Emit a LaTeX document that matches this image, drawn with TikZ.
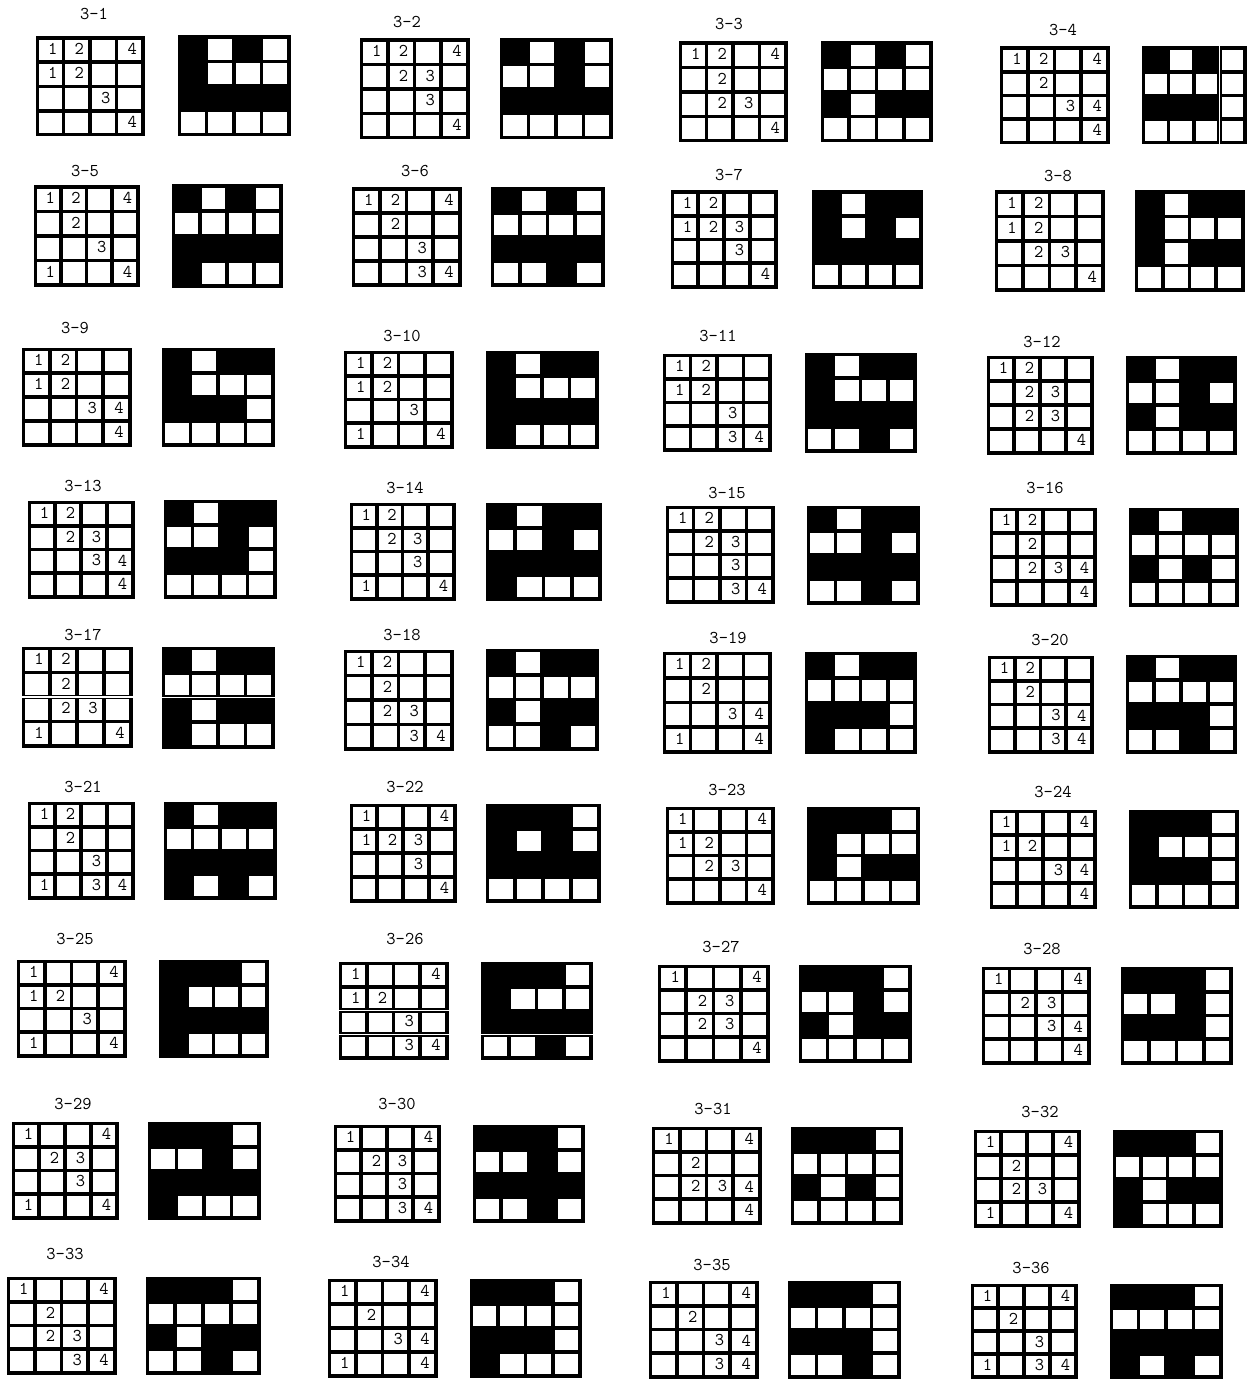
\documentclass[tikz,border=0pt]{standalone}
\usepackage{fontspec}
\begin{document}
\tikzset{
  digit/.style={font=\ttfamily\fontsize{18}{18}\selectfont, inner sep=0pt, anchor=center},
  plabel/.style={font=\ttfamily\fontsize{18}{18}\selectfont, inner sep=0pt},
}
\newcommand\numgrid[5]{%
  \pgfmathsetmacro\gcw{(#3-#1)/4}%
  \pgfmathsetmacro\gch{(#4-#2)/4}%
  \fill[black] ({#1-1.5},{#2-1.5}) rectangle ({#3+1.5},{#4+1.5});
  \foreach \v [count=\i from 0] in {#5} {%
    \pgfmathtruncatemacro\gr{div(\i,4)}%
    \pgfmathtruncatemacro\gc{mod(\i,4)}%
    \fill[white] ({#1+\gc*\gcw+1.8},{#2+\gr*\gch+1.8}) rectangle ({#1+(\gc+1)*\gcw-1.8},{#2+(\gr+1)*\gch-1.8});
    \ifnum\v>0 \node[digit] at ({#1+(\gc+0.5)*\gcw+2.5},{#2+(\gr+0.5)*\gch-1}) {\v};\fi
  }%
}
\newcommand\patgrid[5]{%
  \pgfmathsetmacro\gcw{(#3-#1)/4}%
  \pgfmathsetmacro\gch{(#4-#2)/4}%
  \fill[black] ({#1-1.5},{#2-1.5}) rectangle ({#3+1.5},{#4+1.5});
  \foreach \v [count=\i from 0] in {#5} {%
    \pgfmathtruncatemacro\gr{div(\i,4)}%
    \pgfmathtruncatemacro\gc{mod(\i,4)}%
    \ifnum\v=0 \fill[white] ({#1+\gc*\gcw+1.8},{#2+\gr*\gch+1.8}) rectangle ({#1+(\gc+1)*\gcw-1.8},{#2+(\gr+1)*\gch-1.8});\fi
  }%
}
% a thin white split through a thick cell line, with black kept on both sides
\newcommand\vgap[3]{%
  \fill[black] ({#1-2.6},{#2}) rectangle ({#1+2.6},{#3});
  \fill[white] ({#1-0.6},{#2-2}) rectangle ({#1+0.6},{#3+2});}
\newcommand\hgap[3]{%
  \fill[black] ({#2},{#1-2.4}) rectangle ({#3},{#1+2.4});
  \fill[white] ({#2-2},{#1-0.6}) rectangle ({#3+2},{#1+0.6});}
\begin{tikzpicture}[x=1pt,y=-1pt]
\fill[white] (0,0) rectangle (1248,1380);
\useasboundingbox (0,0) rectangle (1248,1380);
% row 1
\node[plabel] (t1) at (94,14) {3-1};
\numgrid{37}{38}{143}{135}{1,2,0,4, 1,2,0,0, 0,0,3,0, 0,0,0,4}
\patgrid{179}{37}{289}{135}{1,0,1,0, 1,0,0,0, 1,1,1,1, 0,0,0,0}
\node[plabel] (t2) at (407,22) {3-2};
\numgrid{361}{40}{468}{138}{1,2,0,4, 0,2,3,0, 0,0,3,0, 0,0,0,4}
\patgrid{501}{40}{611}{138}{1,0,1,0, 0,0,1,0, 1,1,1,1, 0,0,0,0}
\node[plabel] (t3) at (729,24) {3-3};
\numgrid{680}{43}{786}{141}{1,2,0,4, 0,2,0,0, 0,2,3,0, 0,0,0,4}
\patgrid{822}{43}{931}{141}{1,0,1,0, 0,0,0,0, 1,0,1,1, 0,0,0,0}
\node[plabel] (t4) at (1063,30) {3-4};
\numgrid{1001}{48}{1108}{143}{1,2,0,4, 0,2,0,0, 0,0,3,4, 0,0,0,4}
\patgrid{1143}{48}{1245}{143}{1,0,1,0, 0,0,0,0, 1,1,1,0, 0,0,0,0}
\vgap{1219.5}{46.5}{144.5}
% row 2
\node[plabel] (t5) at (85,171) {3-5};
\numgrid{35}{187}{138}{285}{1,2,0,4, 0,2,0,0, 0,0,3,0, 1,0,0,4}
\patgrid{173}{186}{281}{286}{1,0,1,0, 0,0,0,0, 1,1,1,1, 1,0,0,0}
\node[plabel] (t6) at (415,171) {3-6};
\numgrid{353}{189}{460}{285}{1,2,0,4, 0,2,0,0, 0,0,3,0, 0,0,3,4}
\patgrid{492}{189}{603}{285}{1,0,1,0, 0,0,0,0, 1,1,1,1, 0,0,1,0}
\node[plabel] (t7) at (729,175) {3-7};
\numgrid{672}{192}{776}{287}{1,2,0,0, 1,2,3,0, 0,0,3,0, 0,0,0,4}
\patgrid{813}{192}{921}{287}{1,0,1,1, 1,0,1,0, 1,1,1,1, 0,0,0,0}
\node[plabel] (t8) at (1058,176) {3-8};
\numgrid{996}{192}{1103}{290}{1,2,0,0, 1,2,0,0, 0,2,3,0, 0,0,0,4}
\patgrid{1136}{192}{1243}{290}{1,0,1,1, 1,0,0,0, 1,0,1,1, 0,0,0,0}
% row 3
\node[plabel] (t9) at (75,328) {3-9};
\numgrid{23}{349}{130}{445}{1,2,0,0, 1,2,0,0, 0,0,3,4, 0,0,0,4}
\patgrid{163}{349}{273}{445}{1,0,1,1, 1,0,0,0, 1,1,1,0, 0,0,0,0}
\node[plabel] (t10) at (402,336) {3-10};
\numgrid{345}{352}{452}{447}{1,2,0,0, 1,2,0,0, 0,0,3,0, 1,0,0,4}
\patgrid{487}{352}{597}{447}{1,0,1,1, 1,0,0,0, 1,1,1,1, 1,0,0,0}
\node[plabel] (t11) at (718,336) {3-11};
\numgrid{664}{355}{770}{450}{1,2,0,0, 1,2,0,0, 0,0,3,0, 0,0,3,4}
\patgrid{806}{354}{915}{451}{1,0,1,1, 1,0,0,0, 1,1,1,1, 0,0,1,0}
\node[plabel] (t12) at (1042,342) {3-12};
\numgrid{988}{357}{1092}{453}{1,2,0,0, 0,2,3,0, 0,2,3,0, 0,0,0,4}
\patgrid{1127}{357}{1235}{453}{1,0,1,1, 0,0,1,0, 1,0,1,1, 0,0,0,0}
% row 4
\node[plabel] (t13) at (83,486) {3-13};
\numgrid{29}{502}{133}{597}{1,2,0,0, 0,2,3,0, 0,0,3,4, 0,0,0,4}
\patgrid{165}{501}{275}{597}{1,0,1,1, 0,0,1,0, 1,1,1,0, 0,0,0,0}
\node[plabel] (t14) at (405,488) {3-14};
\numgrid{351}{504}{454}{599}{1,2,0,0, 0,2,3,0, 0,0,3,0, 1,0,0,4}
\patgrid{487}{504}{600}{599}{1,0,1,1, 0,0,1,0, 1,1,1,1, 1,0,0,0}
\node[plabel] (t15) at (727,493) {3-15};
\numgrid{667}{507}{773}{602}{1,2,0,0, 0,2,3,0, 0,0,3,0, 0,0,3,4}
\patgrid{808}{507}{918}{603}{1,0,1,1, 0,0,1,0, 1,1,1,1, 0,0,1,0}
\node[plabel] (t16) at (1045,488) {3-16};
\numgrid{991}{509}{1095}{605}{1,2,0,0, 0,2,0,0, 0,2,3,4, 0,0,0,4}
\patgrid{1130}{509}{1237}{605}{1,0,1,1, 0,0,0,0, 1,0,1,0, 0,0,0,0}
% row 5
\node[plabel] (t17) at (83,635) {3-17};
\numgrid{23}{648}{131}{746}{1,2,0,0, 0,2,0,0, 0,2,3,0, 1,0,0,4}
\patgrid{163}{648}{273}{747}{1,0,1,1, 0,0,0,0, 1,0,1,1, 1,0,0,0}
\hgap{697}{21.5}{132.5}
\hgap{697.5}{161.5}{274.5}
\node[plabel] (t18) at (402,635) {3-18};
\numgrid{345}{651}{452}{749}{1,2,0,0, 0,2,0,0, 0,2,3,0, 0,0,3,4}
\patgrid{487}{650}{597}{749}{1,0,1,1, 0,0,0,0, 1,0,1,1, 0,0,1,0}
\node[plabel] (t19) at (728,638) {3-19};
\numgrid{664}{653}{770}{752}{1,2,0,0, 0,2,0,0, 0,0,3,4, 1,0,0,4}
\patgrid{806}{653}{915}{752}{1,0,1,1, 0,0,0,0, 1,1,1,0, 1,0,0,0}
\node[plabel] (t20) at (1050,640) {3-20};
\numgrid{989}{657}{1092}{752}{1,2,0,0, 0,2,0,0, 0,0,3,4, 0,0,3,4}
\patgrid{1127}{656}{1235}{752}{1,0,1,1, 0,0,0,0, 1,1,1,0, 0,0,1,0}
% row 6
\node[plabel] (t21) at (83,787) {3-21};
\numgrid{29}{803}{133}{898}{1,2,0,0, 0,2,0,0, 0,0,3,0, 1,0,3,4}
\patgrid{165}{803}{275}{898}{1,0,1,1, 0,0,0,0, 1,1,1,1, 1,0,1,0}
\node[plabel] (t22) at (405,787) {3-22};
\numgrid{351}{805}{455}{901}{1,0,0,4, 1,2,3,0, 0,0,3,0, 0,0,0,4}
\patgrid{487}{805}{599}{901}{1,1,1,0, 1,0,1,0, 1,1,1,1, 0,0,0,0}
\node[plabel] (t23) at (727,790) {3-23};
\numgrid{667}{808}{773}{903}{1,0,0,4, 1,2,0,0, 0,2,3,0, 0,0,0,4}
\patgrid{808}{808}{918}{903}{1,1,1,0, 1,0,0,0, 1,0,1,1, 0,0,0,0}
\node[plabel] (t24) at (1053,792) {3-24};
\numgrid{991}{811}{1095}{907}{1,0,0,4, 1,2,0,0, 0,0,3,4, 0,0,0,4}
\patgrid{1130}{811}{1237}{907}{1,1,1,0, 1,0,0,0, 1,1,1,0, 0,0,0,0}
% row 7
\node[plabel] (t25) at (75,939) {3-25};
\numgrid{18}{961}{125}{1056}{1,0,0,4, 1,2,0,0, 0,0,3,0, 1,0,0,4}
\patgrid{160}{961}{267}{1056}{1,1,1,0, 1,0,0,0, 1,1,1,1, 1,0,0,0}
\node[plabel] (t26) at (405,939) {3-26};
\numgrid{340}{963}{447}{1058}{1,0,0,4, 1,2,0,0, 0,0,3,0, 0,0,3,4}
\patgrid{482}{963}{591}{1058}{1,1,1,0, 1,0,0,0, 1,1,1,1, 0,0,1,0}
\hgap{1010.5}{338.5}{448.5}
\hgap{1034.3}{338.5}{448.5}
\hgap{1034.3}{480.5}{592.5}
\node[plabel] (t27) at (721,947) {3-27};
\numgrid{659}{966}{768}{1061}{1,0,0,4, 0,2,3,0, 0,2,3,0, 0,0,0,4}
\patgrid{800}{966}{910}{1061}{1,1,1,0, 0,0,1,0, 1,0,1,1, 0,0,0,0}
\node[plabel] (t28) at (1042,949) {3-28};
\numgrid{983}{968}{1089}{1063}{1,0,0,4, 0,2,3,0, 0,0,3,4, 0,0,0,4}
\patgrid{1122}{968}{1231}{1063}{1,1,1,0, 0,0,1,0, 1,1,1,0, 0,0,0,0}
% row 8
\node[plabel] (t29) at (73,1104) {3-29};
\numgrid{13}{1123}{117}{1218}{1,0,0,4, 0,2,3,0, 0,0,3,0, 1,0,0,4}
\patgrid{149}{1123}{259}{1218}{1,1,1,0, 0,0,1,0, 1,1,1,1, 1,0,0,0}
\node[plabel] (t30) at (397,1104) {3-30};
\numgrid{335}{1126}{439}{1221}{1,0,0,4, 0,2,3,0, 0,0,3,0, 0,0,3,4}
\patgrid{474}{1126}{583}{1221}{1,1,1,0, 0,0,1,0, 1,1,1,1, 0,0,1,0}
\node[plabel] (t31) at (713,1109) {3-31};
\numgrid{653}{1128}{760}{1223}{1,0,0,4, 0,2,0,0, 0,2,3,4, 0,0,0,4}
\patgrid{792}{1128}{901}{1223}{1,1,1,0, 0,0,0,0, 1,0,1,0, 0,0,0,0}
\node[plabel] (t32) at (1040,1112) {3-32};
\numgrid{975}{1131}{1079}{1226}{1,0,0,4, 0,2,0,0, 0,2,3,0, 1,0,0,4}
\patgrid{1114}{1131}{1221}{1226}{1,1,1,0, 0,0,0,0, 1,0,1,1, 1,0,0,0}
% row 9
\node[plabel] (t33) at (65,1254) {3-33};
\numgrid{8}{1278}{115}{1373}{1,0,0,4, 0,2,0,0, 0,2,3,0, 0,0,3,4}
\patgrid{147}{1278}{259}{1373}{1,1,1,0, 0,0,0,0, 1,0,1,1, 0,0,1,0}
\node[plabel] (t34) at (391,1262) {3-34};
\numgrid{329}{1280}{436}{1376}{1,0,0,4, 0,2,0,0, 0,0,3,4, 1,0,0,4}
\patgrid{471}{1280}{580}{1376}{1,1,1,0, 0,0,0,0, 1,1,1,0, 1,0,0,0}
\node[plabel] (t35) at (712,1265) {3-35};
\numgrid{650}{1282}{757}{1377}{1,0,0,4, 0,2,0,0, 0,0,3,4, 0,0,3,4}
\patgrid{789}{1282}{899}{1377}{1,1,1,0, 0,0,0,0, 1,1,1,0, 0,0,1,0}
\node[plabel] (t36) at (1031,1268) {3-36};
\numgrid{972}{1285}{1076}{1377}{1,0,0,4, 0,2,0,0, 0,0,3,0, 1,0,3,4}
\patgrid{1111}{1285}{1221}{1377}{1,1,1,0, 0,0,0,0, 1,1,1,1, 1,0,1,0}
\end{tikzpicture}
\end{document}
